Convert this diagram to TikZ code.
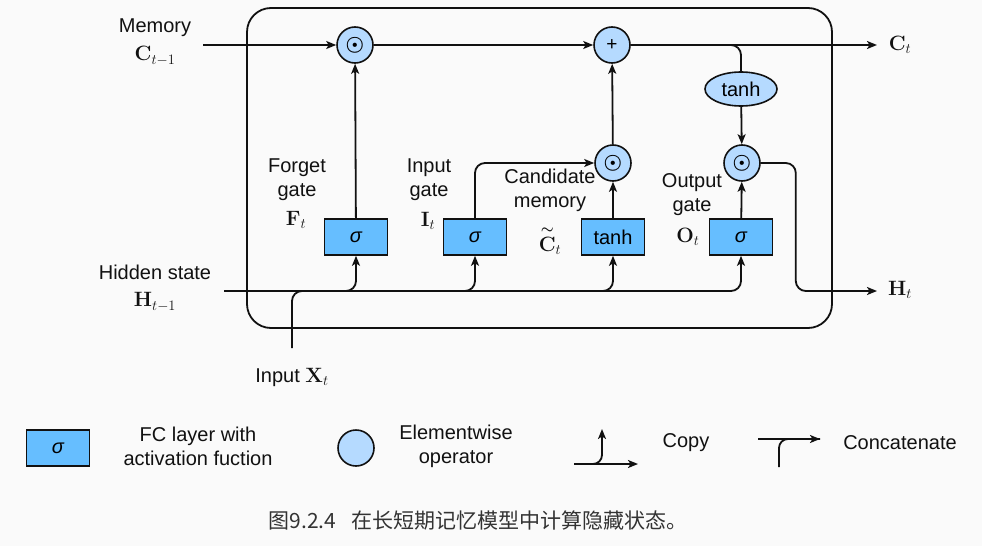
\documentclass[tikz,border=0pt]{standalone}
\usepackage[no-math]{fontspec}
\usepackage{amsmath}
\setmainfont{Liberation Sans}
\newfontfamily\cjkfont{Noto Sans CJK SC}
\usetikzlibrary{arrows.meta,shapes.geometric}
\definecolor{Ink}{HTML}{111111}
\definecolor{Canvas}{HTML}{FAFAFA}
\definecolor{LayerBlue}{HTML}{66BEFF}
\definecolor{OpBlue}{HTML}{B5DAFF}
\definecolor{CaptionGray}{HTML}{333333}
\newcommand\diagfont{\fontsize{20}{24}\selectfont}
\newcommand\dotop{$\boldsymbol{\odot}$}
\tikzset{
  layer/.style={
    draw=Ink, line width=1.6pt, fill=LayerBlue,
    minimum width=63pt, minimum height=36pt, inner sep=0pt, font=\diagfont
  },
  pointwise/.style={
    circle, draw=Ink, line width=1.6pt, fill=OpBlue,
    minimum size=36pt, inner sep=0pt, font=\diagfont
  },
  actfun/.style={
    ellipse, draw=Ink, line width=1.6pt, fill=OpBlue,
    minimum width=72pt, minimum height=34pt, inner sep=0pt, font=\diagfont
  },
  note/.style={align=center, text=Ink, font=\diagfont, inner sep=1pt},
  wire/.style={line width=1.8pt, draw=Ink},
  flow/.style={wire, -{Stealth[length=10pt,width=8pt,inset=2.5pt]}}
}

\begin{document}
\begin{tikzpicture}[x=1pt,y=-1pt]
    \useasboundingbox[fill=Canvas] (0,0) rectangle (982,546);
    % cell outline
    \draw[wire, rounded corners=24pt] (247,8) rectangle (832,328);
    % elementwise operators
    \node[pointwise] (fmul) at (355,45) {\dotop};
    \node[pointwise] (plus) at (612,45) {\fontsize{19}{19}\selectfont +};
    \node[actfun] (tanhc) at (741,89) {tanh};
    \node[pointwise] (cmul) at (613,163) {\dotop};
    \node[pointwise] (omul) at (742,163) {\dotop};
    % fully connected layers
    \node[layer] (fbox) at (356,237) {\itshape σ};
    \node[layer] (ibox) at (475,237) {\itshape σ};
    \node[layer] (tbox) at (613,237) {tanh};
    \node[layer] (obox) at (741,237) {\itshape σ};
    % texts
    \node[note] (memtxt) at (155,28) {Memory};
    \node[note] (cprev) at (155,56) {$\mathbf{C}_{t-1}$};
    \node[note] (hidtxt) at (155,272) {Hidden state};
    \node[note] (hprev) at (155,302) {$\mathbf{H}_{t-1}$};
    \node[note] (xtxt) at (292,377) {Input $\mathbf{X}_t$};
    \node[note] (forgettxt) at (297,180) {Forget\\gate};
    \node[note] (ftxt) at (296,220) {$\mathbf{F}_t$};
    \node[note] (inputtxt) at (429,180) {Input\\gate};
    \node[note] (itxt) at (428,221) {$\mathbf{I}_t$};
    \node[note] (candtxt) at (550,190) {Candidate\\memory};
    \node[note] (cctxt) at (550,240) {$\overset{\boldsymbol{\sim}}{\mathbf{C}}_t$};
    \node[note] (outputtxt) at (692,195) {Output\\gate};
    \node[note] (otxt) at (688,237) {$\mathbf{O}_t$};
    \node[note] (cnext) at (900,45) {$\mathbf{C}_t$};
    \node[note] (hnext) at (900,290) {$\mathbf{H}_t$};
    % free ends
    \coordinate (cin) at (203,45);
    \coordinate (cout) at (877,45);
    \coordinate (hin) at (224,291);
    \coordinate (hout) at (877,291);
    \coordinate (xin) at (292,348);
    \coordinate (xjoin) at (340,291);
    % memory path
    \draw[flow] (cin) -- (fmul);
    \draw[flow] (fmul) -- (plus);
    \draw[flow] (plus) -- (cout);
    \draw[wire, rounded corners=10pt] (plus.east) -| (tanhc.north);
    \draw[flow] (tanhc) -- (omul);
    \draw[flow] (cmul) -- (plus);
    % gates
    \draw[flow] (fbox) -- (fmul);
    \draw[flow, rounded corners=10pt] (ibox.north) |- (cmul.west);
    \draw[flow] (tbox) -- (cmul);
    \draw[flow] (obox) -- (omul);
    \draw[flow, rounded corners=10pt] (omul.east) -- ++(35,0) |- (hout);
    % hidden state and input
    \draw[flow, rounded corners=10pt] (hin) -| (obox.south);
    \foreach \gate in {fbox,ibox,tbox}
      \draw[flow, rounded corners=10pt] (hin) -| (\gate.south);
    \draw[wire, rounded corners=10pt] (xin) |- (xjoin);
    % legend
    \node[layer] (keylayer) at (58,448) {\itshape σ};
    \node[note] (keylayertxt) at (198,446) {FC layer with\\activation fuction};
    \node[pointwise] (keyop) at (356,448) {};
    \node[note] (keyoptxt) at (456,446) {Elementwise\\operator};
    \coordinate (copya) at (574,464);
    \coordinate (copyb) at (638,464);
    \coordinate (copyc) at (602,429);
    \draw[flow] (copya) -- (copyb);
    \draw[flow, rounded corners=9pt] (copya) -| (copyc);
    \node[note] (copytxt) at (686,443) {Copy};
    \coordinate (cata) at (779,467);
    \coordinate (catb) at (758,439);
    \coordinate (catc) at (820,439);
    \draw[flow] (catb) -- (catc);
    \draw[wire, rounded corners=9pt] (cata) |- (catc);
    \node[note] (cattxt) at (900,443) {Concatenate};
    % caption
    \node[font=\cjkfont\fontsize{21}{21}\selectfont, text=CaptionGray] (caption)
      at (478,521) {图9.2.4\enspace\ 在长短期记忆模型中计算隐藏状态。};
\end{tikzpicture}
\end{document}
